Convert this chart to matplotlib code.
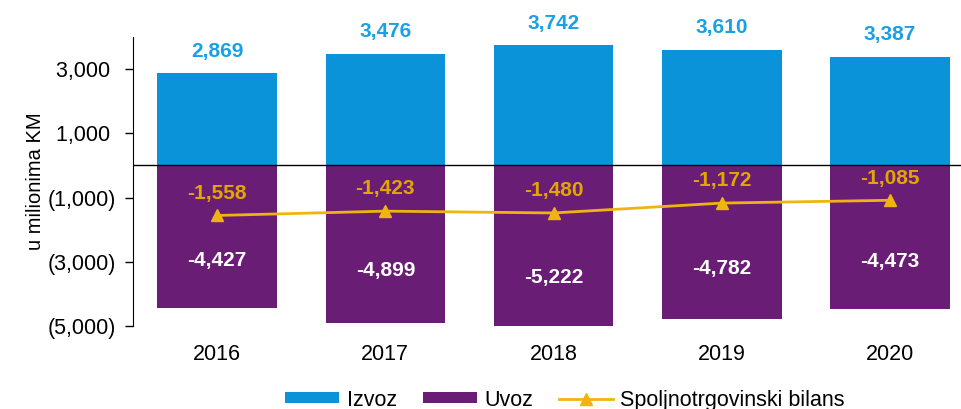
import matplotlib
matplotlib.use("Agg")
import matplotlib.pyplot as plt
from matplotlib.ticker import FuncFormatter

plt.rcParams["font.family"] = ["Liberation Sans", "DejaVu Sans"]

years = ["2016", "2017", "2018", "2019", "2020"]
izvoz = [2869, 3476, 3742, 3610, 3387]
uvoz = [-4427, -4899, -5222, -4782, -4473]
bilans = [-1558, -1423, -1480, -1172, -1085]
y_ticks = [3000, 1000, -1000, -3000, -5000]

BLUE = "#0a93d8"
PURPLE = "#6a1d74"
GOLD = "#f0b411"
BLUE_TXT = "#1aa0e6"
GOLD_TXT = "#e3a600"

fig = plt.figure(figsize=(9.61, 4.09), dpi=100)
ax = fig.add_axes([133 / 961, 1 - 326 / 409, 1 - 133 / 961, (326 - 37) / 409])

x = list(range(len(years)))
b1 = ax.bar(x, izvoz, width=0.71, color=BLUE, label="Izvoz", zorder=2)
b2 = ax.bar(x, uvoz, width=0.71, color=PURPLE, label="Uvoz", zorder=2)
(ln,) = ax.plot(x, bilans, color=GOLD, marker="^", markersize=8, linewidth=2,
                label="Spoljnotrgovinski bilans", zorder=3)
ax.axhline(0, color="black", linewidth=1, zorder=4)

for xi, v in zip(x, izvoz):
    ax.annotate(f"{v:,}", (xi, v), xytext=(0, 9), textcoords="offset points",
                ha="center", va="bottom", color=BLUE_TXT, fontsize=15,
                fontweight="bold")
for xi, v in zip(x, uvoz):
    ax.text(xi, v * 0.67, f"{v:,}", ha="center", va="center", color="white",
            fontsize=15, fontweight="bold", zorder=5)
for xi, v in zip(x, bilans):
    ax.annotate(f"{v:,}", (xi, v), xytext=(0, 16), textcoords="offset points",
                ha="center", va="center", color=GOLD_TXT, fontsize=15,
                fontweight="bold", zorder=5)

ax.set_ylim(-5000, 4000)
ax.set_xlim(-0.5, (961 - 217) / 168.25)
ax.set_yticks(y_ticks)
ax.yaxis.set_major_formatter(FuncFormatter(
    lambda v, p: f"({abs(int(v)):,})" if v < 0 else f"{int(v):,} "))
ax.set_xticks(x)
ax.set_xticklabels(years)
ax.tick_params(axis="x", length=0, pad=13, labelsize=15.5)
ax.tick_params(axis="y", length=6, width=1, pad=6, labelsize=15.5,
               direction="out")
ax.set_ylabel("u milionima KM", fontsize=14.5, labelpad=2)

for s in ("top", "right", "bottom"):
    ax.spines[s].set_visible(False)

leg = fig.legend(handles=[b1, b2, ln], loc="center",
                 bbox_to_anchor=(0.588, 0.022), ncol=3,
                 frameon=False, fontsize=15.5, handlelength=2.5,
                 handleheight=0.4, handletextpad=0.35, columnspacing=1.2)

fig.savefig("out.png", dpi=100)
